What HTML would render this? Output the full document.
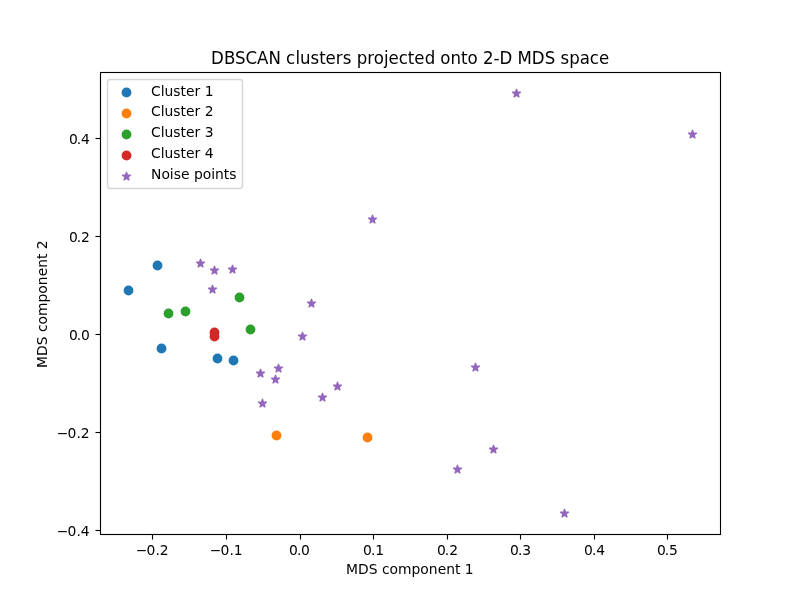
<!DOCTYPE html>
<html lang="en"><head><meta charset="utf-8"><title>DBSCAN clusters projected onto 2-D MDS space</title>
<style>html,body{margin:0;padding:0;background:#fff;overflow:hidden}svg{display:block}text{font-family:'DejaVu Sans', 'Liberation Sans', sans-serif;fill:#000}.t{font-size:13.889px}.h{font-size:16.667px}.ln{stroke:#000;stroke-width:1.111;fill:none}</style></head><body>
<svg width="800" height="600" viewBox="0 0 800 600">
<defs><path id="st" d="M0.000 -4.167 L-0.935 -1.288 L-3.963 -1.288 L-1.514 0.492 L-2.449 3.371 L0.000 1.592 L2.449 3.371 L1.514 0.492 L3.963 -1.288 L0.935 -1.288Z"/></defs>
<rect width="800" height="600" fill="#fff"/>
<g><circle cx="157.5" cy="265.5" r="4.911" fill="#1f77b4"/><circle cx="128.5" cy="290.5" r="4.911" fill="#1f77b4"/><circle cx="161.5" cy="348.5" r="4.911" fill="#1f77b4"/><circle cx="217.5" cy="358.5" r="4.911" fill="#1f77b4"/><circle cx="233.5" cy="360.5" r="4.911" fill="#1f77b4"/></g>
<g><circle cx="276.5" cy="435.5" r="4.911" fill="#ff7f0e"/><circle cx="367.5" cy="437.5" r="4.911" fill="#ff7f0e"/></g>
<g><circle cx="168.5" cy="313.5" r="4.911" fill="#2ca02c"/><circle cx="185.5" cy="311.5" r="4.911" fill="#2ca02c"/><circle cx="239.5" cy="297.5" r="4.911" fill="#2ca02c"/><circle cx="250.5" cy="329.5" r="4.911" fill="#2ca02c"/></g>
<g><circle cx="214.5" cy="332.5" r="4.911" fill="#d62728"/><circle cx="214.5" cy="336.5" r="4.911" fill="#d62728"/></g>
<g fill="#9467bd" stroke="#9467bd" stroke-width="1.389" stroke-linejoin="round"><use href="#st" x="200.5" y="263.5"/><use href="#st" x="214.5" y="270.5"/><use href="#st" x="232.5" y="269.5"/><use href="#st" x="212.5" y="289.5"/><use href="#st" x="260.5" y="373.5"/><use href="#st" x="278.5" y="368.5"/><use href="#st" x="275.5" y="379.5"/><use href="#st" x="262.5" y="403.5"/><use href="#st" x="322.5" y="397.5"/><use href="#st" x="337.5" y="386.5"/><use href="#st" x="302.5" y="336.5"/><use href="#st" x="372.5" y="219.5"/><use href="#st" x="311.5" y="303.5"/><use href="#st" x="516.5" y="93.5"/><use href="#st" x="692.5" y="134.5"/><use href="#st" x="475.5" y="367.5"/><use href="#st" x="493.5" y="449.5"/><use href="#st" x="457.5" y="469.5"/><use href="#st" x="564.5" y="513.5"/></g>
<path class="ln" d="M152.5 534.5v5M226.5 534.5v5M300.5 534.5v5M373.5 534.5v5M447.5 534.5v5M520.5 534.5v5M594.5 534.5v5M667.5 534.5v5"/>
<g fill="#000"><rect x="95.5" y="137.945" width="5" height="1.111"/><rect x="95.5" y="235.945" width="5" height="1.111"/><rect x="95.5" y="333.945" width="5" height="1.111"/><rect x="95.5" y="431.945" width="5" height="1.111"/><rect x="95.5" y="529.944" width="5" height="1.111"/></g>
<text class="t" x="135.7 146.42 155.45 159.66" y="555.0">−0.2</text>
<text class="t" x="209.75 220.57 229.4 233.81" y="555.0">−0.1</text>
<text class="t" x="289.01 296.92 300.95" y="555.0">0.0</text>
<text class="t" x="363.06 370.97 375.2" y="555.0">0.1</text>
<text class="t" x="436.91 444.82 449.15" y="555.0">0.2</text>
<text class="t" x="510.06 517.97 522.2" y="555.0">0.3</text>
<text class="t" x="584.01 591.92 596.15" y="555.0">0.4</text>
<text class="t" x="656.96 664.87 669.1" y="555.0">0.5</text>
<text class="t" x="69 76.81 81.04" y="143.98">0.4</text>
<text class="t" x="69 76.81 81.04" y="241.99">0.2</text>
<text class="t" x="69 76.81 80.94" y="340.00">0.0</text>
<text class="t" x="56.68 67.4 76.43 80.64" y="438.01">−0.2</text>
<text class="t" x="56.68 67.4 76.43 80.64" y="536.02">−0.4</text>
<text class="t" x="409.85" y="574.28" text-anchor="middle">MDS component 1</text>
<text class="t" transform="translate(47.22 304.15) rotate(-90)" text-anchor="middle">MDS component 2</text>
<text class="h" transform="translate(410.2 64) scale(0.998 1.083)" x="-199.62 -186.61 -175.68 -165.1 -153.47 -142.08 -129.61 -124.33 -114.97 -110.54 -99.98 -91.21 -84.88 -74.53 -67.69 -59 -53.62 -43.14 -36.46 -26.37 -21.84 -11.41 -2.44 4.09 14.54 24.9 30.2 40.38 50.95 57.47 67.66 72.96 83.55 89.57 102.4 107.48 121.85 134.88 145.44 150.54 159.43 169.99 179.99 189.06">DBSCAN clusters projected onto 2-D MDS space</text>
<rect class="ln" x="100.5" y="72.5" width="620" height="462" style="stroke-linejoin:miter"/>
<rect x="107.50" y="79.50" width="135.00" height="109.00" rx="2.78" fill="#fff" stroke="#ccc" stroke-width="1.389" opacity="0.8"/>
<circle cx="126.5" cy="92.50" r="4.911" fill="#1f77b4"/>
<circle cx="126.5" cy="113.50" r="4.911" fill="#ff7f0e"/>
<circle cx="126.5" cy="134.50" r="4.911" fill="#2ca02c"/>
<circle cx="126.5" cy="155.50" r="4.911" fill="#d62728"/>
<use href="#st" x="126.5" y="176.5" fill="#9467bd" stroke="#9467bd" stroke-width="1.389" stroke-linejoin="round"/>
<text class="t" x="151" y="95.50">Cluster 1</text>
<text class="t" x="151" y="116.44">Cluster 2</text>
<text class="t" x="151" y="137.39">Cluster 3</text>
<text class="t" x="151" y="158.33">Cluster 4</text>
<text class="t" x="151" y="179.28">Noise points</text>
</svg></body></html>
